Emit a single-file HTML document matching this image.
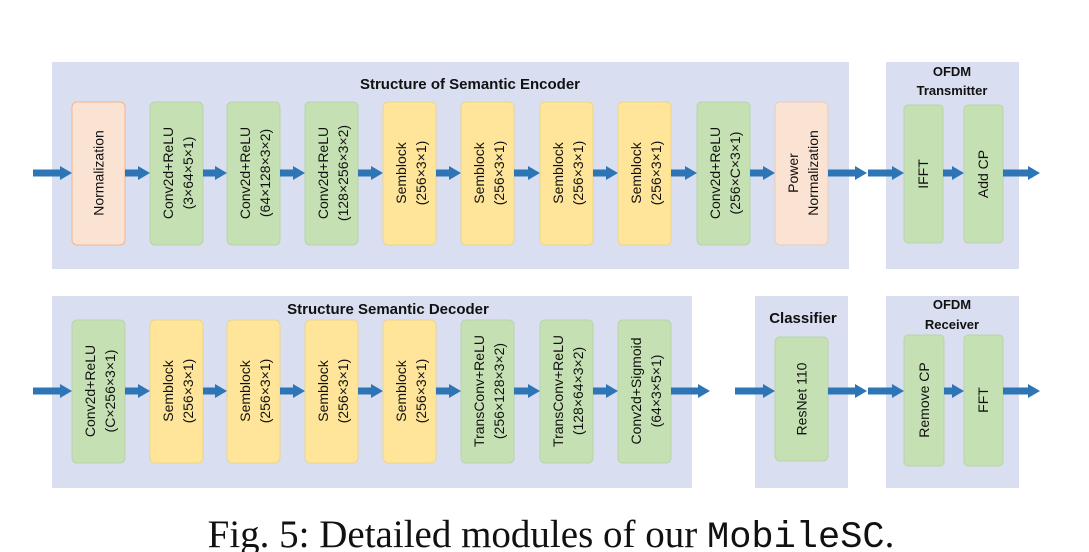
<!DOCTYPE html>
<html><head><meta charset="utf-8"><style>
html,body{margin:0;padding:0;background:#fff;}
svg{display:block;}
text{font-family:"Liberation Sans",sans-serif;}
.t{font-size:14px;fill:#111;text-anchor:middle;}
.h{font-size:15px;font-weight:bold;fill:#111;text-anchor:middle;}
</style></head><body>
<svg width="1089" height="552" viewBox="0 0 1089 552" xmlns="http://www.w3.org/2000/svg">
<rect x="52" y="62" width="797" height="207" fill="#d9dff1"/>
<rect x="886" y="62" width="133" height="207" fill="#d9dff1"/>
<rect x="52" y="296" width="640" height="192" fill="#d9dff1"/>
<rect x="755" y="296" width="93" height="192" fill="#d9dff1"/>
<rect x="886" y="296" width="133" height="192" fill="#d9dff1"/>
<text class="h" x="470" y="89">Structure of Semantic Encoder</text>
<text class="h" x="952" y="76" style="font-size:13px">OFDM</text>
<text class="h" x="952" y="95" style="font-size:13px">Transmitter</text>
<text class="h" x="388" y="314">Structure Semantic Decoder</text>
<text class="h" x="803" y="323">Classifier</text>
<text class="h" x="952" y="309" style="font-size:13px">OFDM</text>
<text class="h" x="952" y="329" style="font-size:13px">Receiver</text>

<g stroke-width="1">
<rect x="72" y="102" width="53" height="143" rx="5" fill="#fbe3d4" stroke="#f0b58f"/>
<rect x="150" y="102" width="53" height="143" rx="5" fill="#c5e0b3" stroke="#b9d3a8"/>
<rect x="227" y="102" width="53" height="143" rx="5" fill="#c5e0b3" stroke="#b9d3a8"/>
<rect x="305" y="102" width="53" height="143" rx="5" fill="#c5e0b3" stroke="#b9d3a8"/>
<rect x="383" y="102" width="53" height="143" rx="5" fill="#fee599" stroke="#ecd58e"/>
<rect x="461" y="102" width="53" height="143" rx="5" fill="#fee599" stroke="#ecd58e"/>
<rect x="540" y="102" width="53" height="143" rx="5" fill="#fee599" stroke="#ecd58e"/>
<rect x="618" y="102" width="53" height="143" rx="5" fill="#fee599" stroke="#ecd58e"/>
<rect x="697" y="102" width="53" height="143" rx="5" fill="#c5e0b3" stroke="#b9d3a8"/>
<rect x="775" y="102" width="53" height="143" rx="5" fill="#fbe3d4" stroke="#e6cdbd"/>
<rect x="904" y="105" width="39" height="138" rx="4" fill="#c5e0b3" stroke="#b9d3a8"/>
<rect x="964" y="105" width="39" height="138" rx="4" fill="#c5e0b3" stroke="#b9d3a8"/>
<rect x="72" y="320" width="53" height="143" rx="5" fill="#c5e0b3" stroke="#b9d3a8"/>
<rect x="150" y="320" width="53" height="143" rx="5" fill="#fee599" stroke="#ecd58e"/>
<rect x="227" y="320" width="53" height="143" rx="5" fill="#fee599" stroke="#ecd58e"/>
<rect x="305" y="320" width="53" height="143" rx="5" fill="#fee599" stroke="#ecd58e"/>
<rect x="383" y="320" width="53" height="143" rx="5" fill="#fee599" stroke="#ecd58e"/>
<rect x="461" y="320" width="53" height="143" rx="5" fill="#c5e0b3" stroke="#b9d3a8"/>
<rect x="540" y="320" width="53" height="143" rx="5" fill="#c5e0b3" stroke="#b9d3a8"/>
<rect x="618" y="320" width="53" height="143" rx="5" fill="#c5e0b3" stroke="#b9d3a8"/>
<rect x="775" y="337" width="53" height="124" rx="5" fill="#c5e0b3" stroke="#b9d3a8"/>
<rect x="904" y="335" width="40" height="131" rx="4" fill="#c5e0b3" stroke="#b9d3a8"/>
<rect x="964" y="335" width="39" height="131" rx="4" fill="#c5e0b3" stroke="#b9d3a8"/>
</g>

<text class="t" transform="translate(103.5,173) rotate(-90)">Normalization</text>
<text class="t" transform="translate(173,173) rotate(-90)">Conv2d+ReLU</text>
<text class="t" transform="translate(193,173) rotate(-90)">(3×64×5×1)</text>
<text class="t" transform="translate(250,173) rotate(-90)">Conv2d+ReLU</text>
<text class="t" transform="translate(270,173) rotate(-90)">(64×128×3×2)</text>
<text class="t" transform="translate(328,173) rotate(-90)">Conv2d+ReLU</text>
<text class="t" transform="translate(348,173) rotate(-90)">(128×256×3×2)</text>
<text class="t" transform="translate(406,173) rotate(-90)">Semblock</text>
<text class="t" transform="translate(426,173) rotate(-90)">(256×3×1)</text>
<text class="t" transform="translate(484,173) rotate(-90)">Semblock</text>
<text class="t" transform="translate(504,173) rotate(-90)">(256×3×1)</text>
<text class="t" transform="translate(563,173) rotate(-90)">Semblock</text>
<text class="t" transform="translate(583,173) rotate(-90)">(256×3×1)</text>
<text class="t" transform="translate(641,173) rotate(-90)">Semblock</text>
<text class="t" transform="translate(661,173) rotate(-90)">(256×3×1)</text>
<text class="t" transform="translate(720,173) rotate(-90)">Conv2d+ReLU</text>
<text class="t" transform="translate(740,173) rotate(-90)">(256×C×3×1)</text>
<text class="t" transform="translate(798,173) rotate(-90)">Power</text>
<text class="t" transform="translate(818,173) rotate(-90)">Normalization</text>
<text class="t" transform="translate(928,174) rotate(-90)">IFFT</text>
<text class="t" transform="translate(988,174) rotate(-90)">Add CP</text>
<text class="t" transform="translate(95,391) rotate(-90)">Conv2d+ReLU</text>
<text class="t" transform="translate(115,391) rotate(-90)">(C×256×3×1)</text>
<text class="t" transform="translate(173,391) rotate(-90)">Semblock</text>
<text class="t" transform="translate(193,391) rotate(-90)">(256×3×1)</text>
<text class="t" transform="translate(250,391) rotate(-90)">Semblock</text>
<text class="t" transform="translate(270,391) rotate(-90)">(256×3×1)</text>
<text class="t" transform="translate(328,391) rotate(-90)">Semblock</text>
<text class="t" transform="translate(348,391) rotate(-90)">(256×3×1)</text>
<text class="t" transform="translate(406,391) rotate(-90)">Semblock</text>
<text class="t" transform="translate(426,391) rotate(-90)">(256×3×1)</text>
<text class="t" transform="translate(484,391) rotate(-90)">TransConv+ReLU</text>
<text class="t" transform="translate(504,391) rotate(-90)">(256×128×3×2)</text>
<text class="t" transform="translate(563,391) rotate(-90)">TransConv+ReLU</text>
<text class="t" transform="translate(583,391) rotate(-90)">(128×64×3×2)</text>
<text class="t" transform="translate(641,391) rotate(-90)">Conv2d+Sigmoid</text>
<text class="t" transform="translate(661,391) rotate(-90)">(64×3×5×1)</text>
<text class="t" transform="translate(806.5,399) rotate(-90)">ResNet 110</text>
<text class="t" transform="translate(929,400) rotate(-90)">Remove CP</text>
<text class="t" transform="translate(988,400) rotate(-90)">FFT</text>

<g fill="#2e75b6">
<polygon points="33,169.5 60,169.5 60,166 72,173 60,180 60,176.5 33,176.5"/>
<polygon points="125,169.5 138,169.5 138,166 150,173 138,180 138,176.5 125,176.5"/>
<polygon points="203,169.5 215,169.5 215,166 227,173 215,180 215,176.5 203,176.5"/>
<polygon points="280,169.5 293,169.5 293,166 305,173 293,180 293,176.5 280,176.5"/>
<polygon points="358,169.5 371,169.5 371,166 383,173 371,180 371,176.5 358,176.5"/>
<polygon points="436,169.5 449,169.5 449,166 461,173 449,180 449,176.5 436,176.5"/>
<polygon points="514,169.5 528,169.5 528,166 540,173 528,180 528,176.5 514,176.5"/>
<polygon points="593,169.5 606,169.5 606,166 618,173 606,180 606,176.5 593,176.5"/>
<polygon points="671,169.5 685,169.5 685,166 697,173 685,180 685,176.5 671,176.5"/>
<polygon points="750,169.5 763,169.5 763,166 775,173 763,180 763,176.5 750,176.5"/>
<polygon points="828,169.5 855,169.5 855,166 867,173 855,180 855,176.5 828,176.5"/>
<polygon points="868,169.5 892,169.5 892,166 904,173 892,180 892,176.5 868,176.5"/>
<polygon points="943,169.5 952,169.5 952,166 964,173 952,180 952,176.5 943,176.5"/>
<polygon points="1003,169.5 1028,169.5 1028,166 1040,173 1028,180 1028,176.5 1003,176.5"/>
<polygon points="33,387.5 60,387.5 60,384 72,391 60,398 60,394.5 33,394.5"/>
<polygon points="125,387.5 138,387.5 138,384 150,391 138,398 138,394.5 125,394.5"/>
<polygon points="203,387.5 215,387.5 215,384 227,391 215,398 215,394.5 203,394.5"/>
<polygon points="280,387.5 293,387.5 293,384 305,391 293,398 293,394.5 280,394.5"/>
<polygon points="358,387.5 371,387.5 371,384 383,391 371,398 371,394.5 358,394.5"/>
<polygon points="436,387.5 449,387.5 449,384 461,391 449,398 449,394.5 436,394.5"/>
<polygon points="514,387.5 528,387.5 528,384 540,391 528,398 528,394.5 514,394.5"/>
<polygon points="593,387.5 606,387.5 606,384 618,391 606,398 606,394.5 593,394.5"/>
<polygon points="671,387.5 698,387.5 698,384 710,391 698,398 698,394.5 671,394.5"/>
<polygon points="735,387.5 763,387.5 763,384 775,391 763,398 763,394.5 735,394.5"/>
<polygon points="828,387.5 855,387.5 855,384 867,391 855,398 855,394.5 828,394.5"/>
<polygon points="868,387.5 892,387.5 892,384 904,391 892,398 892,394.5 868,394.5"/>
<polygon points="944,387.5 952,387.5 952,384 964,391 952,398 952,394.5 944,394.5"/>
<polygon points="1003,387.5 1028,387.5 1028,384 1040,391 1028,398 1028,394.5 1003,394.5"/>
</g>

<text x="551" y="547" style="font-family:'Liberation Serif',serif;font-size:39px;fill:#111;text-anchor:middle">Fig. 5: Detailed modules of our <tspan style="font-family:'Liberation Mono',monospace;font-size:37px">MobileSC</tspan>.</text>
</svg>
</body></html>
